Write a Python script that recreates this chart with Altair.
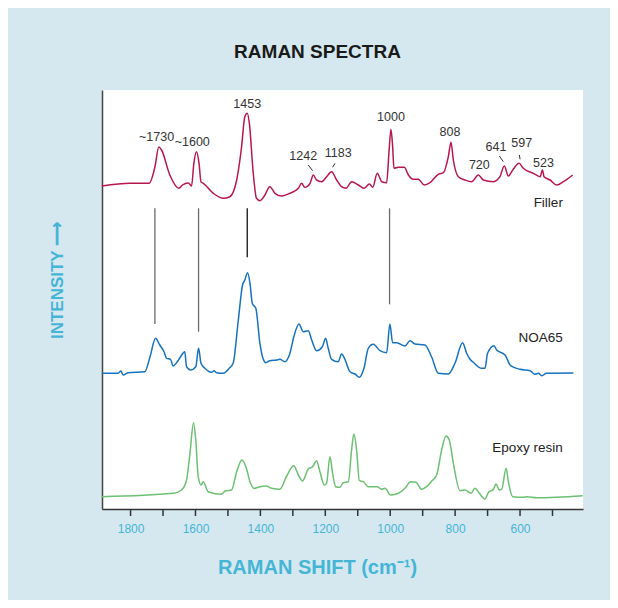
import altair as alt
import pandas as pd

# ---- Filler spectrum (wavenumber, intensity incl. vertical offset) ----
filler_x = [1888.5, 1802, 1742.6, 1725, 1713, 1704.6, 1679, 1651, 1640, 1622, 1612, 1605, 1597, 1589, 1583,
            1576, 1545, 1514.5, 1494, 1473, 1458, 1448, 1440.5, 1434, 1422, 1412, 1401.5, 1386, 1371, 1355,
            1335, 1309, 1283, 1273, 1263, 1247, 1237, 1227, 1211, 1196, 1180.6, 1165, 1150, 1136, 1119,
            1098, 1081, 1064, 1054, 1040, 1026, 1011, 1004, 997.7, 992.5, 988.5, 975, 956.6, 944, 929,
            913.5, 895, 877.5, 852, 836, 821, 812.7, 805.5, 790, 769.5, 749, 728.5, 713, 682, 662,
            648.5, 636, 621, 603, 590, 559, 538, 531, 526, 507.5, 487, 466.5, 437.7]
filler_y = [323, 325.7, 325.7, 342, 362, 359, 334, 320.7, 324, 326, 323, 345.7, 357.3, 345.7, 327,
            325.7, 315.7, 310.7, 312.3, 329, 362, 392.3, 395.7, 385.7, 335.7, 310.7, 308.3, 314, 322.3, 315.7,
            313, 315.7, 320.7, 325.7, 321.7, 325.7, 334, 329, 327.3, 332.3, 337.3, 329, 322.3, 320.7, 327.3,
            324, 320.7, 325, 321.7, 335.7, 327.3, 326.3, 355.7, 379.7, 362.3, 340.7, 341.7, 341.7, 334, 329.7,
            329.7, 324, 326.3, 334.7, 336.3, 352.3, 366.7, 349, 332.3, 329, 327.3, 334, 329, 327.3, 332.3,
            343, 333, 339.7, 345.7, 340.7, 335.7, 332.3, 339, 332.3, 329, 324, 327.3, 334]

# ---- NOA65 spectrum ----
noa_x = [1888.5, 1838, 1830, 1823, 1807.5, 1756, 1740, 1723, 1710, 1697, 1689, 1677, 1669, 1656, 1646,
         1633, 1627.5, 1615, 1599, 1590.5, 1583, 1571, 1550.5, 1543, 1535, 1514.5, 1496, 1484, 1468, 1455,
         1448, 1439.5, 1432, 1425, 1414, 1401.5, 1391, 1383, 1371, 1350, 1340, 1324.5, 1309, 1297, 1281,
         1268, 1252.5, 1242, 1227, 1209, 1199, 1191, 1180.6, 1160, 1150, 1139.5, 1124, 1108.6, 1095, 1081,
         1067.5, 1052, 1031.6, 1011, 1001, 992.5, 980, 954.5, 939, 923.7, 893, 872, 852, 821, 800.5,
         777, 764.5, 754, 744, 718, 708, 700, 680, 672, 646, 629, 600, 569, 554, 543.5,
         533, 518, 435.6]
noa_y = [135.7, 135.7, 138, 134, 136.3, 137.3, 152.3, 170.7, 164, 157.3, 150.7, 149.7, 143, 147.3, 152.3,
         157.3, 142.3, 139, 142.3, 160.7, 145.7, 140.7, 136.7, 138.3, 136.3, 135.7, 140.7, 145.7, 189, 224,
         229, 236.3, 225.7, 205.7, 200.7, 165.7, 149.7, 146.3, 148.3, 149, 149.7, 147.3, 155.7, 172.3, 185,
         177.3, 178.3, 169, 158.3, 162.3, 170.7, 160.7, 149.7, 147.3, 155, 149.7, 137.3, 135, 131.7, 140.7,
         160.7, 164.7, 158.3, 156.3, 185, 166.3, 166.3, 163, 168.3, 165, 164, 151.7, 135.7, 135, 145.7,
         166.3, 155.7, 149.7, 146.7, 140.7, 140.7, 155.7, 163.3, 159, 154, 143.3, 139.7, 138.3, 134.7, 135.7,
         133.3, 135.7, 136]

# ---- Epoxy resin spectrum ----
epoxy_x = [1888.5, 1668.6, 1643, 1627.5, 1617, 1606, 1599, 1591.6, 1583, 1576, 1561, 1520, 1509, 1489, 1473,
           1457, 1444.6, 1432, 1420, 1401.5, 1383, 1365.5, 1340, 1319, 1297, 1283, 1270, 1252.5, 1239, 1227,
           1216.5, 1203, 1196, 1185.7, 1177.5, 1168, 1155, 1145, 1129, 1119, 1112, 1103.5, 1095, 1083, 1067.5,
           1040, 1026.5, 1016, 999, 975, 954.5, 937, 920.6, 903, 888, 872, 857, 841.5, 828, 818,
           805.5, 785, 769.5, 751, 739, 725.4, 708, 698, 682, 674, 664, 656.5, 643, 636, 622.6,
           590, 579.5, 548.7, 406.9]
epoxy_y = [12.3, 15.7, 19, 29, 55.7, 86.3, 69, 32.3, 24, 27.3, 17.3, 14.7, 18, 19, 37.3,
           49, 42.3, 27.3, 20.7, 22.3, 23, 20.7, 19.7, 33, 43.3, 34, 28, 40, 42.3, 48.3,
           37.3, 24, 25.7, 52.3, 35.7, 22.3, 21.7, 26.3, 27.3, 59, 75, 59, 28.3, 27.3, 22.3,
           22.3, 19.7, 20.7, 14, 15.7, 20.7, 27.3, 26.7, 19.7, 22.3, 28, 34, 59, 73, 69,
           45.7, 18.3, 19, 15.7, 20.7, 15.7, 10, 16.3, 19.7, 25, 19, 19.7, 40.7, 27.3, 12.3,
           11.7, 12.3, 11.3, 13.3]

series_names = ["Filler", "NOA65", "Epoxy resin"]
series_colors = ["#b8174c", "#1672bf", "#6cc072"]

# ---- peak labels on the Filler trace ----
peak_text = ["~1730", "~1600", "1453", "1242", "1183", "1000", "808", "720", "641", "597", "523"]
peak_x = [1720, 1610, 1440.5, 1268, 1160, 997.7, 816, 725.4, 674, 595, 528]
peak_y = [371.7, 367.3, 405, 353, 355.7, 392.3, 376.7, 344, 362.3, 366.3, 346.3]

# small leader strokes next to some labels
lead_x = [1252.5, 1177.5, 663.7, 602]
lead_x2 = [1239, 1170, 651.5, 600]
lead_y = [344, 341.7, 353, 354]
lead_y2 = [338.3, 345.7, 347.3, 349.7]

# vertical guide lines between Filler and NOA65
guide_x = [1725, 1590.5, 1440.5, 1002]
guide_top = [300.7, 300.7, 300.7, 300.7]
guide_bottom = [185, 177.3, 251.7, 204.7]
guide_color = ["#6a6a6a", "#6a6a6a", "#111111", "#6a6a6a"]

# series name labels
name_x = [468, 468, 468]
name_y = [306.3, 171.3, 61.3]

x_label_ticks = [1800, 1600, 1400, 1200, 1000, 800, 600]
x_all_ticks = [1800, 1700, 1600, 1500, 1400, 1300, 1200, 1100, 1000, 900, 800, 700, 600, 500]

# ---- build tables ----
rows = []
for name, xs, ys in zip(series_names, [filler_x, noa_x, epoxy_x], [filler_y, noa_y, epoxy_y]):
    for i, (a, b) in enumerate(zip(xs, ys)):
        rows.append({"series": name, "shift": a, "intensity": b, "order": i})
df_lines = pd.DataFrame(rows)
df_peaks = pd.DataFrame({"label": peak_text, "shift": peak_x, "intensity": peak_y})
df_lead = pd.DataFrame({"x": lead_x, "x2": lead_x2, "y": lead_y, "y2": lead_y2})
df_guide = pd.DataFrame({"x": guide_x, "y": guide_top, "y2": guide_bottom, "c": guide_color})
df_names = pd.DataFrame({"series": series_names, "x": name_x, "y": name_y})
df_ticks = pd.DataFrame({"x": x_all_ticks})

cyan = "#45b5d6"
xscale = alt.Scale(domain=[406, 1888], reverse=True, nice=False, zero=False)
yscale = alt.Scale(domain=[0, 419], nice=False, zero=False)

xaxis = alt.Axis(values=x_label_ticks, format="d", ticks=False,
                 labelOverlap=False, labelBound=False, labelFlush=False,
                 domainColor="#333333", domainWidth=1.5, grid=False,
                 labelColor=cyan, labelFont="Liberation Sans", labelFontSize=12, labelPadding=14,
                 title="RAMAN SHIFT (cm⁻¹)", titleFont="Liberation Sans", titleFontSize=20,
                 titleFontWeight="bold", titleColor=cyan, titleX=215, titleY=58,
                 titleAlign="center", titleBaseline="middle")
yaxis = alt.Axis(ticks=False, labels=False, grid=False, domainColor="#444444", domainWidth=1.5,
                 title="INTENSITY ⟶", titleFont="Liberation Sans", titleFontSize=17,
                 titleFontWeight="bold", titleColor=cyan, titleAngle=270, titleX=-45, titleY=190,
                 titleAlign="center", titleBaseline="middle")

lines = alt.Chart(df_lines).mark_line(strokeWidth=1.5, interpolate="monotone").encode(
    x=alt.X("shift:Q", scale=xscale, axis=xaxis),
    y=alt.Y("intensity:Q", scale=yscale, axis=yaxis),
    color=alt.Color("series:N", scale=alt.Scale(domain=series_names, range=series_colors), legend=None),
    order="order:Q",
)

# x-axis tick marks, placed through the x scale, hanging below the axis line
ticks = alt.Chart(df_ticks).mark_rule(strokeWidth=1.5, color="#333333").encode(
    x="x:Q", y=alt.value(419), y2=alt.value(426),
)

guides = alt.Chart(df_guide).mark_rule(strokeWidth=1.3).encode(
    x="x:Q", y="y:Q", y2="y2:Q",
    color=alt.Color("c:N", scale=None),
)

leads = alt.Chart(df_lead).mark_rule(strokeWidth=1, color="#333333").encode(
    x="x:Q", x2="x2:Q", y="y:Q", y2="y2:Q",
)

peaks = alt.Chart(df_peaks).mark_text(font="Liberation Sans", fontSize=12.5, color="#333333",
                                      align="center", baseline="middle").encode(
    x="shift:Q", y="intensity:Q", text="label:N",
)

names = alt.Chart(df_names).mark_text(font="Liberation Sans", fontSize=13.5, color="#222222",
                                      align="right", baseline="middle").encode(
    x="x:Q", y="y:Q", text="series:N",
)

chart = alt.layer(guides, lines, ticks, leads, peaks, names).properties(
    width=481, height=419,
    autosize=alt.AutoSizeParams(type="none"),
    padding={"left": 94, "top": 82, "right": 27, "bottom": 91},
    background="#d5e8f0",
    title=alt.TitleParams("RAMAN SPECTRA", font="Liberation Sans", fontSize=19, fontWeight="bold",
                          color="#1a1a1a", anchor="middle", frame="group", dx=-25, offset=28),
).configure_view(fill="white", stroke=None)

chart.save("out.html", embed_options={"renderer": "svg", "actions": False})
